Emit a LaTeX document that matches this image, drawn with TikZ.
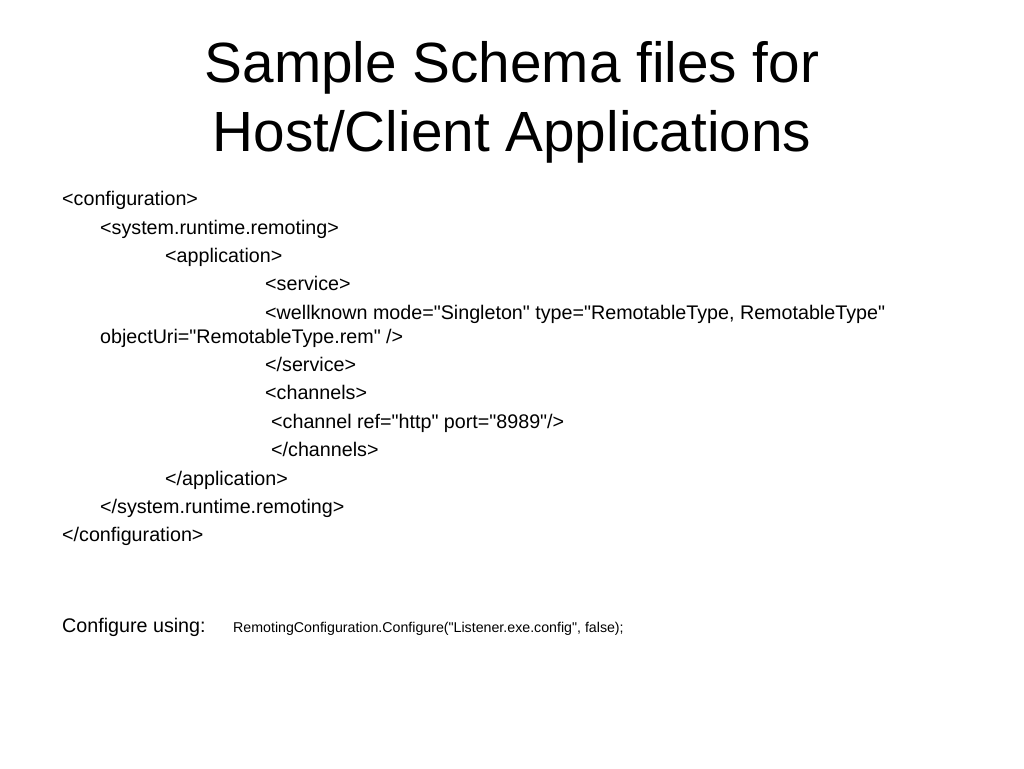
\documentclass[tikz,border=0pt]{standalone}
\usepackage{fontspec}
\setmainfont{Liberation Sans}[Ligatures=TeXOff]
\begin{document}
\begin{tikzpicture}[x=1pt,y=-1pt,
  title/.style={anchor=base,inner sep=0pt,font=\fontsize{56.7}{69}\selectfont},
  line/.style={anchor=base west,inner sep=0pt,font=\fontsize{19.7}{24}\selectfont},
  code/.style={anchor=base west,inner sep=0pt,font=\fontsize{14.2}{17}\selectfont}]
\useasboundingbox[fill=white] (0,0) rectangle (1024,768);

% Title
\node[title] (title1) at (512,82) {Sample Schema files for};
\node[title] (title2) at (512,151) {Host/Client Applications};

% Listing
\foreach \n/\x/\y/\t in {
  1/62/205/{<configuration>},
  2/100/234/{<system.runtime.remoting>},
  3/165/262/{<application>},
  4/265/290/{<service>},
  5/265/319/{<wellknown mode="Singleton" type="RemotableType, RemotableType"},
  6/100/343/{objectUri="RemotableType.rem" />},
  7/265/371/{</service>},
  8/265/399/{<channels>},
  9/271/428/{<channel ref="http" port="8989"/>},
  10/271/456/{</channels>},
  11/165/485/{</application>},
  12/100/513/{</system.runtime.remoting>},
  13/62/541/{</configuration>}}{
  \node[line] (line\n) at (\x,\y) {\t};
}

% Usage
\node[line] (using) at (62,632) {Configure using:};
\node[code] (call) at (233,632) {RemotingConfiguration.Configure("Listener.exe.config", false);};

\end{tikzpicture}
\end{document}
